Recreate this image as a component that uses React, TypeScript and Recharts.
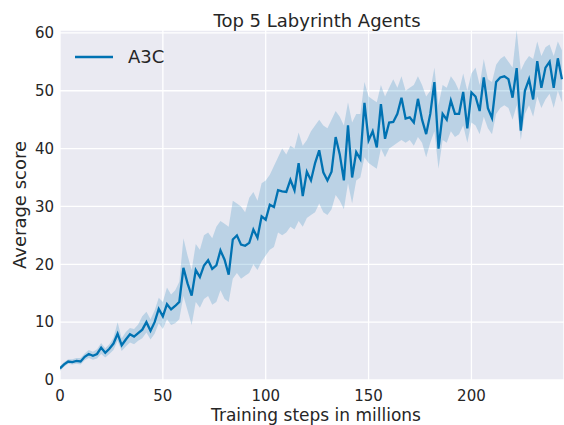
import { ComposedChart, Area, Line, XAxis, YAxis, CartesianGrid } from "recharts";

const FONT = "DejaVu Sans";
const TEXT = "#262626";
const BLUE = "#0072B2";

// training steps (millions)
const steps = [
  0, 2, 4, 6, 8, 10, 12, 14, 16, 18, 20, 22, 24, 26, 28, 30, 32, 34, 36, 38,
  40, 42, 44, 46, 48, 50, 52, 54, 56, 58, 60, 62, 64, 66, 68, 70, 72, 74, 76, 78,
  80, 82, 84, 86, 88, 90, 92, 94, 96, 98, 100, 102, 104, 106, 108, 110, 112, 114, 116, 118,
  120, 122, 124, 126, 128, 130, 132, 134, 136, 138, 140, 142, 144, 146, 148, 150, 152, 154, 156, 158,
  160, 162, 164, 166, 168, 170, 172, 174, 176, 178, 180, 182, 184, 186, 188, 190, 192, 194, 196, 198,
  200, 202, 204, 206, 208, 210, 212, 214, 216, 218, 220, 222, 224, 226, 228, 230, 232, 234, 236, 238,
  240, 242, 244,
];

// mean score of the top 5 agents
const meanScore = [
  2.0, 2.7, 3.2, 3.1, 3.3, 3.2, 4.0, 4.5, 4.2, 4.5, 5.6, 4.7, 5.4, 6.3, 8.0, 6.0, 7.0, 7.9, 7.5, 8.1,
  8.7, 10.0, 8.5, 10.0, 12.3, 11.0, 13.1, 12.2, 12.8, 13.5, 19.4, 16.7, 14.6, 19.0, 17.8, 19.8, 20.7, 19.2, 19.8, 22.4,
  20.8, 18.2, 24.3, 25.0, 23.4, 23.2, 23.7, 26.0, 24.6, 28.3, 27.7, 30.3, 29.9, 32.8, 32.6, 32.5, 34.6, 32.8, 37.5, 31.8,
  36.0, 34.5, 37.5, 39.7, 35.9, 34.5, 36.0, 42.0, 39.0, 34.5, 44.0, 35.0, 39.4, 38.2, 47.9, 41.4, 43.0, 40.2, 47.7, 41.7,
  44.5, 44.6, 46.0, 48.8, 45.2, 45.4, 44.5, 48.6, 45.0, 42.5, 46.0, 51.5, 40.0, 46.0, 45.0, 48.3, 46.0, 46.0, 49.8, 43.5,
  49.7, 49.0, 46.5, 52.3, 47.0, 45.3, 51.5, 52.3, 52.5, 52.0, 48.8, 53.9, 43.1, 50.0, 52.0, 48.5, 55.1, 50.5, 54.0, 55.0,
  50.5, 55.6, 52.0,
];

// lower edge of the shaded band
const lowerScore = [
  1.6, 2.3, 2.8, 2.7, 2.8, 2.7, 3.4, 3.8, 3.5, 3.7, 4.5, 3.9, 4.5, 5.2, 6.8, 5.0, 5.8, 6.5, 6.2, 6.8,
  7.2, 8.2, 7.0, 8.0, 9.8, 8.8, 10.5, 9.5, 9.8, 10.5, 14.5, 12.0, 9.5, 13.5, 12.5, 14.0, 14.5, 13.0, 13.5, 15.5,
  14.0, 13.5, 17.5, 18.5, 17.5, 18.0, 18.5, 20.0, 19.0, 20.5, 21.5, 22.5, 23.0, 25.5, 25.0, 25.5, 26.5, 26.0, 27.5, 26.5,
  28.0, 28.5, 29.0, 30.5, 29.0, 28.5, 29.5, 32.0, 31.0, 29.5, 34.0, 30.5, 34.5, 35.0, 38.5, 37.5, 37.0, 36.5, 40.0, 38.5,
  40.0, 40.5, 41.0, 41.5, 41.0, 41.5, 40.5, 42.0, 41.0, 38.5, 41.0, 43.0, 36.5, 41.5, 41.0, 43.0, 42.0, 42.5, 44.0, 41.0,
  44.5, 44.0, 42.5, 45.5, 43.5, 42.5, 46.0, 47.0, 47.5, 47.0, 45.0, 47.5, 41.5, 46.0, 47.5, 45.5, 49.0, 47.0, 48.5, 49.5,
  47.0, 50.0, 48.0,
];

// upper edge of the shaded band
const upperScore = [
  2.4, 3.1, 3.6, 3.6, 3.8, 3.8, 4.6, 5.2, 4.9, 5.3, 6.4, 5.5, 6.2, 7.3, 10.0, 7.2, 8.3, 9.0, 8.8, 9.6,
  11.0, 11.8, 10.5, 12.0, 14.2, 13.5, 16.0, 14.8, 15.5, 17.0, 24.5, 21.5, 19.0, 23.5, 22.5, 25.0, 25.5, 24.5, 26.5, 27.5,
  27.0, 26.5, 31.0, 30.5, 30.0, 29.0, 31.5, 32.5, 31.0, 34.0, 34.5, 35.5, 37.0, 38.5, 40.0, 39.0, 40.5, 40.0, 42.8, 40.5,
  41.5, 43.0, 44.0, 45.0, 44.0, 43.5, 45.0, 46.5, 45.5, 44.0, 48.0, 44.5, 46.0, 46.0, 51.5, 49.0, 48.5, 48.0, 51.0, 49.0,
  50.5, 52.0, 50.5, 52.5, 50.0, 50.5, 51.0, 52.5, 51.0, 49.0, 50.0, 54.0, 47.5, 51.0, 50.5, 52.5, 51.5, 50.0, 53.0, 50.0,
  53.0, 54.0, 51.0, 55.5, 52.0, 51.5, 54.5, 55.5, 56.0, 55.0, 54.0, 60.5, 53.5, 55.0, 56.0, 55.5, 58.5, 56.0, 57.5, 58.0,
  56.0, 58.5, 57.0,
];

const xTicks = [0, 50, 100, 150, 200];
const yTicks = [0, 10, 20, 30, 40, 50, 60];

const data = steps.map((step, i) => ({
  step,
  mean: meanScore[i],
  band: [lowerScore[i], upperScore[i]],
}));

const tickStyle = { fontSize: 15, fill: TEXT, fontFamily: FONT };

export default function App() {
  return (
    <div style={{ position: "absolute", left: 0, top: 0, width: 564, height: 425, overflow: "hidden" }}>
      <ComposedChart
        width={564}
        height={425}
        data={data}
        margin={{ top: 30, right: 0, bottom: 0, left: 0 }}
      >
        <CartesianGrid stroke="#ffffff" strokeWidth={1.3} fill="#EAEAF2" fillOpacity={1} />
        <XAxis
          type="number"
          dataKey="step"
          domain={[0, 245]}
          ticks={xTicks}
          allowDataOverflow
          axisLine={false}
          tickLine={false}
          tickSize={0}
          tickMargin={10}
          height={45}
          tick={tickStyle}
          label={{
            value: "Training steps in millions",
            position: "insideBottom",
            offset: 4,
            dx: 4,
            style: { fontSize: 17, fill: TEXT, fontFamily: FONT },
          }}
        />
        <YAxis
          type="number"
          domain={[0, 60]}
          ticks={yTicks}
          axisLine={false}
          tickLine={false}
          tickSize={0}
          tickMargin={6}
          width={60}
          tick={tickStyle}
          label={{
            content: () => (
              <text
                x={26}
                y={205}
                transform="rotate(-90, 26, 205)"
                textAnchor="middle"
                fontSize={18}
                fill={TEXT}
                fontFamily={FONT}
              >
                Average score
              </text>
            ),
          }}
        />
        <Area
          type="linear"
          dataKey="band"
          fill={BLUE}
          fillOpacity={0.2}
          stroke="none"
          isAnimationActive={false}
          activeDot={false}
        />
        <Line
          type="linear"
          dataKey="mean"
          stroke={BLUE}
          strokeWidth={2.3}
          dot={false}
          activeDot={false}
          isAnimationActive={false}
        />
      </ComposedChart>
      <div
        style={{
          position: "absolute",
          left: 0,
          width: 634,
          top: 10,
          lineHeight: "21px",
          textAlign: "center",
          fontSize: 18,
          fontFamily: FONT,
          color: TEXT,
        }}
      >
        Top 5 Labyrinth Agents
      </div>
      <div
        style={{
          position: "absolute",
          left: 75,
          top: 46,
          display: "flex",
          alignItems: "center",
          fontFamily: FONT,
          fontSize: 18,
          color: TEXT,
          lineHeight: "22px",
        }}
      >
        <svg width={40} height={22} style={{ display: "block" }}>
          <line x1={0} y1={11} x2={38} y2={11} stroke={BLUE} strokeWidth={2.3} />
        </svg>
        <span style={{ marginLeft: 13 }}>A3C</span>
      </div>
    </div>
  );
}
